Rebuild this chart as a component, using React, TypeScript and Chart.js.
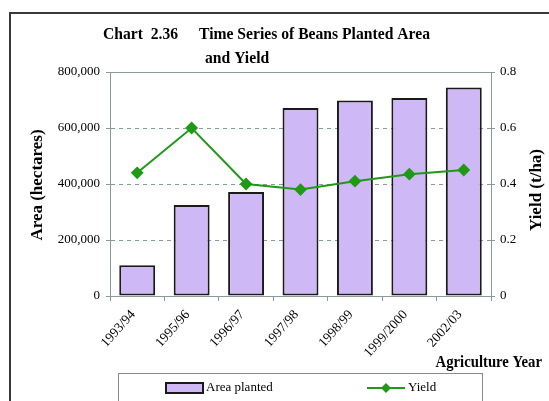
import React, { useEffect, useRef } from "react";
import { Chart, registerables } from "chart.js";

Chart.register(...registerables);

const categories = ["1993/94", "1995/96", "1996/97", "1997/98", "1998/99", "1999/2000", "2002/03"];
const areaPlanted = [110000, 325000, 371000, 671000, 698000, 707000, 745000];
const yieldValues = [0.44, 0.6, 0.4, 0.38, 0.41, 0.435, 0.45];
const areaTicks = [0, 200000, 400000, 600000, 800000];
const yieldTicks = [0, 0.2, 0.4, 0.6, 0.8];

const BAR_FILL = "#cfb8f6";
const LINE_GREEN = "#1f9a16";
const AXIS_GRAY = "#8a9a9a";
const SERIF = "'Liberation Serif', 'Times New Roman', serif";

function squeezedText(ctx: any, text: string, x: number, y: number, sx: number) {
  ctx.save();
  ctx.translate(x, y);
  ctx.scale(sx, 1);
  ctx.fillText(text, 0, 0);
  ctx.restore();
}

const decorPlugin = {
  id: "decor",
  beforeDraw(chart: any) {
    const ctx = chart.ctx;
    ctx.save();
    ctx.fillStyle = "#ffffff";
    ctx.fillRect(0, 0, chart.width, chart.height);
    ctx.restore();
  },
  afterDraw(chart: any) {
    const ctx = chart.ctx;
    const ca = chart.chartArea;
    ctx.save();
    // top border of plot area
    ctx.strokeStyle = AXIS_GRAY;
    ctx.lineWidth = 1;
    ctx.setLineDash([]);
    ctx.beginPath();
    ctx.moveTo(ca.left, ca.top + 0.5);
    ctx.lineTo(ca.right, ca.top + 0.5);
    ctx.stroke();

    // outer frame
    ctx.strokeStyle = "#3a3a3a";
    ctx.lineWidth = 2;
    ctx.strokeRect(10, 13, chart.width + 20, chart.height + 20);

    // title
    ctx.fillStyle = "#000";
    ctx.font = `bold 17px ${SERIF}`;
    ctx.textAlign = "left";
    ctx.textBaseline = "alphabetic";
    squeezedText(ctx, "Chart  2.36", 103, 39, 0.92);
    squeezedText(ctx, "Time Series of Beans Planted Area", 199, 39, 0.92);
    squeezedText(ctx, "and Yield", 205, 63, 0.92);

    // axis titles
    ctx.font = `bold 17px ${SERIF}`;
    ctx.textAlign = "center";
    ctx.textBaseline = "middle";
    ctx.save();
    ctx.translate(38, 185);
    ctx.rotate(-Math.PI / 2);
    ctx.fillText("Area (hectares)", 0, 0);
    ctx.restore();
    ctx.save();
    ctx.translate(537, 190);
    ctx.rotate(-Math.PI / 2);
    ctx.fillText("Yield (t/ha)", 0, 0);
    ctx.restore();

    ctx.font = `bold 16px ${SERIF}`;
    ctx.textAlign = "right";
    ctx.textBaseline = "alphabetic";
    squeezedText(ctx, "Agriculture Year", 542, 367, 0.92);

    // legend box
    ctx.strokeStyle = "#8a8a8a";
    ctx.lineWidth = 1;
    ctx.strokeRect(118.5, 373.5, 364, 40);

    const ds0 = chart.data.datasets[0];
    const ds1 = chart.data.datasets[1];
    const ly = 388;
    ctx.fillStyle = ds0.backgroundColor;
    ctx.fillRect(166, ly - 5, 37, 10);
    ctx.strokeStyle = ds0.borderColor;
    ctx.lineWidth = 2;
    ctx.strokeRect(166, ly - 5, 37, 10);
    ctx.fillStyle = "#000";
    ctx.font = `13px ${SERIF}`;
    ctx.textAlign = "left";
    ctx.textBaseline = "middle";
    ctx.fillText(ds0.label, 206, ly);

    ctx.strokeStyle = ds1.borderColor;
    ctx.lineWidth = 2;
    ctx.beginPath();
    ctx.moveTo(367, ly);
    ctx.lineTo(405, ly);
    ctx.stroke();
    ctx.fillStyle = ds1.pointBackgroundColor;
    ctx.beginPath();
    ctx.moveTo(386, ly - 5);
    ctx.lineTo(391, ly);
    ctx.lineTo(386, ly + 5);
    ctx.lineTo(381, ly);
    ctx.closePath();
    ctx.fill();
    ctx.fillStyle = "#000";
    ctx.fillText(ds1.label, 408, ly);
    ctx.restore();
  },
};

export default function App() {
  const ref = useRef<HTMLCanvasElement>(null);

  useEffect(() => {
    if (!ref.current) return;
    const chart = new Chart(ref.current, {
      type: "bar",
      data: {
        labels: categories,
        datasets: [
          {
            type: "bar",
            label: "Area planted",
            data: areaPlanted,
            backgroundColor: BAR_FILL,
            borderColor: "#1a1a1a",
            borderWidth: 2,
            borderSkipped: false,
            barPercentage: 0.66,
            categoryPercentage: 1,
            yAxisID: "y",
            order: 2,
          } as any,
          {
            type: "line",
            label: "Yield",
            data: yieldValues,
            borderColor: LINE_GREEN,
            backgroundColor: LINE_GREEN,
            pointBackgroundColor: LINE_GREEN,
            pointBorderColor: LINE_GREEN,
            borderWidth: 2,
            pointStyle: "rectRot",
            pointRadius: 5,
            tension: 0,
            yAxisID: "y1",
            order: 1,
          } as any,
        ],
      },
      options: {
        responsive: false,
        animation: false,
        devicePixelRatio: 1,
        layout: { padding: { left: 12, right: 0, top: 72, bottom: 0 } },
        plugins: {
          legend: { display: false },
          title: { display: false },
          tooltip: { enabled: false },
        },
        scales: {
          x: {
            offset: true,
            grid: {
              offset: true,
              drawOnChartArea: false,
              drawTicks: true,
              tickLength: 5,
              color: AXIS_GRAY,
            },
            border: { display: true, color: AXIS_GRAY, width: 1 },
            ticks: {
              color: "#000",
              font: { family: SERIF, size: 13.5 },
              minRotation: 48,
              maxRotation: 48,
              padding: 6,
              labelOffset: -4,
              autoSkip: false,
            },
            afterFit: (s: any) => {
              s.height = 105;
            },
          },
          y: {
            position: "left",
            min: 0,
            max: 800000,
            afterBuildTicks: (s: any) => {
              s.ticks = areaTicks.map((v) => ({ value: v }));
            },
            grid: {
              color: AXIS_GRAY,
              lineWidth: 1,
              tickLength: 4,
              tickBorderDash: [],
              drawTicks: true,
            },
            border: { display: true, color: AXIS_GRAY, width: 1, dash: [4, 4] },
            ticks: {
              color: "#000",
              font: { family: SERIF, size: 13 },
              padding: 6,
              callback: (v: any) => Number(v).toLocaleString("en-US"),
            },
            afterFit: (s: any) => {
              s.width = 98;
            },
          },
          y1: {
            position: "right",
            min: 0,
            max: 0.8,
            afterBuildTicks: (s: any) => {
              s.ticks = yieldTicks.map((v) => ({ value: v }));
            },
            grid: {
              drawOnChartArea: false,
              color: AXIS_GRAY,
              tickLength: 4,
              drawTicks: true,
            },
            border: { display: true, color: AXIS_GRAY, width: 1 },
            ticks: {
              color: "#000",
              font: { family: SERIF, size: 13 },
              padding: 5,
              callback: (v: any) => (Number(v) === 0 ? "0" : Number(v).toFixed(1)),
            },
            afterFit: (s: any) => {
              s.width = 58;
            },
          },
        },
      },
      plugins: [decorPlugin],
    });
    return () => chart.destroy();
  }, []);

  return (
    <div style={{ position: "fixed", left: 0, top: 0, width: 549, height: 401, background: "#fff" }}>
      <canvas ref={ref} width={549} height={401} style={{ width: 549, height: 401, display: "block" }} />
    </div>
  );
}
